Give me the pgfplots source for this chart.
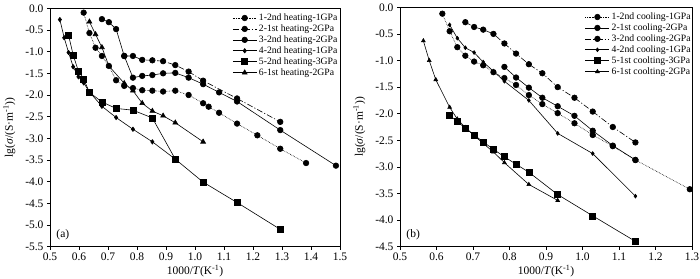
\documentclass[border=0pt]{standalone}
\usepackage{fontspec}
\setmainfont{Liberation Serif}
\usepackage{pgfplots}
\pgfplotsset{compat=1.18}
\begin{document}
\begin{tikzpicture}
\pgfplotsset{
  common/.style={
    scale only axis,
    axis line style={line width=0.6pt},
    tick style={black, line width=0.5pt},
    tick align=outside,
    xtick pos=bottom, ytick pos=left,
    major tick length=3pt,
    /pgf/number format/assume math mode=true,
    /pgf/number format/.cd, fixed, fixed zerofill, precision=1, /pgfplots/.cd,
    tick label style={font=\fontsize{11.5}{13}\selectfont},
    label style={font=\fontsize{11.5}{13}\selectfont},
    xlabel={1000/\textit{T}(K\textsuperscript{-1})},
    ylabel={lg(\textit{σ}/(S·m\textsuperscript{-1}))},
    xlabel style={yshift=3pt},
    ylabel style={yshift=3pt},
    legend cell align=left,
    legend style={draw=none, fill=none, font=\fontsize{9.7}{11}\selectfont, anchor=north west, inner sep=1pt, row sep=-1.3pt},
    legend image code/.code={\draw[mark repeat=2,mark phase=2] plot coordinates {(0cm,0cm) (0.42cm,0cm) (0.84cm,0cm)};},
    every axis plot/.append style={black, line width=0.6pt, mark options={solid}},
  },
  ser1/.style={densely dotted, mark=*, mark size=2.8pt},
  ser2/.style={dash pattern=on 6pt off 2pt on 1.2pt off 2pt, mark=*, mark size=2.8pt},
  ser3/.style={solid, mark=*, mark size=2.8pt},
  ser4/.style={solid, mark=diamond*, mark size=2.2pt},
  ser5/.style={solid, mark=square*, mark size=3pt},
  ser6/.style={solid, mark=triangle*, mark size=2.8pt},
}
\begin{axis}[common, at={(0pt,0pt)}, anchor=south west,
  width=290pt, height=238.4pt,
  xmin=0.5, xmax=1.5, ymin=-5.5, ymax=0,
  xtick={0.5,0.6,...,1.5}, ytick={-5.5,-5,...,0},
  legend style={at={(rel axis cs:0.625,0.99)}}]
\addplot[ser1] coordinates {(0.616,-0.10) (0.636,-0.57) (0.657,-0.91) (0.679,-1.10) (0.703,-1.33) (0.728,-1.66) (0.756,-1.79) (0.786,-1.84) (0.818,-1.89) (0.853,-1.90) (0.890,-1.92) (0.932,-1.90) (0.978,-2.0) (1.028,-2.19) (1.047,-2.27) (1.083,-2.41) (1.145,-2.66) (1.215,-2.93) (1.294,-3.24) (1.383,-3.57)};
\addlegendentry{1-2nd heating-1GPa}
\addplot[ser2] coordinates {(0.756,-1.10) (0.786,-1.10) (0.818,-1.19) (0.853,-1.20) (0.890,-1.22) (0.932,-1.31) (0.978,-1.46) (1.028,-1.67) (1.145,-2.08) (1.294,-2.62)};
\addlegendentry{2-1st heating-2GPa}
\addplot[ser3] coordinates {(0.679,-0.25) (0.703,-0.32) (0.728,-0.48) (0.756,-1.10) (0.786,-1.60) (0.818,-1.56) (0.853,-1.54) (0.890,-1.50) (0.932,-1.49) (0.978,-1.60) (1.028,-1.75) (1.083,-1.94) (1.145,-2.15) (1.294,-2.81) (1.486,-3.63)};
\addlegendentry{3-2nd heating-2GPa}
\addplot[ser4] coordinates {(0.534,-0.26) (0.549,-0.68) (0.564,-1.02) (0.580,-1.35) (0.598,-1.58) (0.616,-1.72) (0.636,-1.93) (0.679,-2.26) (0.728,-2.52) (0.786,-2.79) (0.853,-3.08) (0.932,-3.48)};
\addlegendentry{4-2nd heating-1GPa}
\addplot[ser5] coordinates {(0.564,-0.62) (0.580,-1.08) (0.598,-1.45) (0.616,-1.63) (0.636,-1.94) (0.679,-2.16) (0.728,-2.31) (0.786,-2.35) (0.853,-2.53) (0.932,-3.48) (1.028,-4.01) (1.145,-4.48) (1.294,-5.10)};
\addlegendentry{5-2nd heating-3GPa}
\addplot[ser6] coordinates {(0.636,-0.31) (0.657,-0.60) (0.679,-0.90) (0.703,-1.33) (0.756,-1.73) (0.786,-1.90) (0.818,-2.19) (0.853,-2.37) (0.890,-2.48) (0.932,-2.64) (1.028,-3.08)};
\addlegendentry{6-1st heating-2GPa}
\node[anchor=south west, font=\fontsize{11.5}{13}\selectfont] at (rel axis cs:0.01,0.015) {(a)};
\end{axis}
\begin{axis}[common, at={(350pt,0pt)}, anchor=south west,
  width=292pt, height=239.4pt,
  xmin=0.5, xmax=1.3, ymin=-4.5, ymax=0,
  xtick={0.5,0.6,...,1.3}, ytick={-4.5,-4,...,0},
  legend style={at={(rel axis cs:0.63,0.99)}}]
\addplot[ser1] coordinates {(0.616,-0.12) (0.636,-0.45) (0.657,-0.75) (0.679,-0.91) (0.703,-1.02) (0.728,-1.09) (0.756,-1.22) (0.786,-1.33) (0.818,-1.46) (0.853,-1.65) (0.890,-1.82) (0.932,-1.99) (0.978,-2.18) (1.028,-2.40) (1.083,-2.61) (1.145,-2.87) (1.294,-3.42)};
\addlegendentry{1-2nd cooling-1GPa}
\addplot[ser3] coordinates {(0.786,-1.12) (0.818,-1.32) (0.853,-1.51) (0.890,-1.70) (0.932,-1.86) (0.978,-2.04) (1.028,-2.32) (1.083,-2.60) (1.145,-2.87)};
\addlegendentry{2-1st cooling-2GPa}
\addplot[ser2] coordinates {(0.679,-0.28) (0.703,-0.37) (0.728,-0.42) (0.756,-0.50) (0.786,-0.68) (0.818,-0.87) (0.853,-1.07) (0.890,-1.24) (0.932,-1.50) (0.978,-1.70) (1.028,-1.96) (1.083,-2.25) (1.145,-2.54)};
\addlegendentry{3-2nd cooling-2GPa}
\addplot[ser4, mark size=1.9pt] coordinates {(0.636,-0.33) (0.657,-0.58) (0.679,-0.76) (0.703,-0.85) (0.728,-1.03) (0.756,-1.20) (0.786,-1.39) (0.853,-1.75) (0.932,-2.37) (1.028,-2.75) (1.145,-3.55)};
\addlegendentry{4-2nd cooling-1GPa}
\addplot[ser5] coordinates {(0.636,-2.03) (0.657,-2.15) (0.679,-2.27) (0.703,-2.40) (0.728,-2.53) (0.756,-2.67) (0.786,-2.81) (0.818,-2.95) (0.853,-3.10) (0.932,-3.52) (1.028,-3.92) (1.145,-4.40)};
\addlegendentry{5-1st coolting-3GPa}
\addplot[ser6, mark size=2.2pt] coordinates {(0.564,-0.63) (0.580,-1.00) (0.598,-1.36) (0.636,-1.88) (0.657,-2.10) (0.679,-2.26) (0.703,-2.41) (0.728,-2.56) (0.756,-2.72) (0.786,-2.92) (0.853,-3.33) (0.932,-3.63)};
\addlegendentry{6-1st coolting-2GPa}
\node[anchor=south west, font=\fontsize{11.5}{13}\selectfont] at (rel axis cs:0.01,0.015) {(b)};
\end{axis}
\pgfresetboundingbox
\path (-50pt,-31.3pt) rectangle (650pt,246.7pt);
\end{tikzpicture}
\end{document}
